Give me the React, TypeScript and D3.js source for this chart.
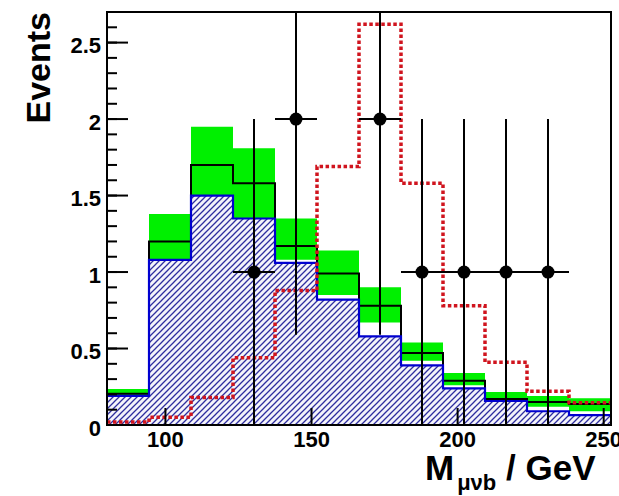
import React from 'react';
import * as d3 from 'd3';

// bin edges in GeV (12 bins)
const binEdges = [80, 94.375, 108.75, 123.125, 137.5, 151.875, 166.25, 180.625, 195, 209.375, 223.75, 238.125, 252.5];

// background (hatched), total expectation (black), its uncertainty band (green)
const background = [0.19, 1.08, 1.5, 1.35, 1.06, 0.82, 0.58, 0.39, 0.24, 0.157, 0.09, 0.065];
const expected = [0.205, 1.2, 1.7, 1.58, 1.17, 0.99, 0.78, 0.47, 0.29, 0.17, 0.15, 0.137];
const bandLow = [0.19, 1.08, 1.5, 1.35, 1.08, 0.85, 0.67, 0.42, 0.26, 0.157, 0.12, 0.09];
const bandHigh = [0.235, 1.38, 1.95, 1.81, 1.35, 1.14, 0.9, 0.54, 0.34, 0.215, 0.19, 0.175];
// signal (red dotted)
const signal = [0.02, 0.05, 0.18, 0.44, 0.88, 1.69, 2.62, 1.58, 0.78, 0.41, 0.22, 0.145];
// observed data
const observed = [0, 0, 0, 1, 2, 0, 2, 1, 1, 1, 1, 0];
const errLow = [0, 0, 0, 1, 1.41, 0, 1.41, 1, 1, 1, 1, 0];
const errHigh = [0, 0, 0, 1, 1.41, 0, 1.41, 1, 1, 1, 1, 0];

const xTicks = [100, 150, 200, 250];
const yTicks = [0, 0.5, 1, 1.5, 2, 2.5];

const W = 619;
const H = 496;
const left = 107, right = 611, top = 12, bottom = 425;
const font = '"Liberation Sans", Arial, Helvetica, sans-serif';

export default function App() {
  const x = d3.scaleLinear().domain([80, 252.5]).range([left, right]);
  const y = d3.scaleLinear().domain([0, 2.7]).range([bottom, top]);

  // step points: one per bin edge, last value repeated
  const steps = (vals: number[]) =>
    binEdges.map((e, i) => [e, vals[Math.min(i, vals.length - 1)]] as [number, number]);

  const line = d3.line<[number, number]>()
    .x(d => x(d[0]))
    .y(d => y(d[1]))
    .curve(d3.curveStepAfter);

  const fillArea = (lo: number[], hi: number[]) =>
    d3.area<number>()
      .x(e => x(e))
      .y0((e, i) => y(lo[Math.min(i, lo.length - 1)]))
      .y1((e, i) => y(hi[Math.min(i, hi.length - 1)]))
      .curve(d3.curveStepAfter)(binEdges);

  const zeros = background.map(() => 0);
  const minor = d3.range(0, 2.75, 0.1);

  return (
    <svg width={W} height={H} style={{ position: 'absolute', left: 0, top: 0, background: '#fff' }}>
      <defs>
        <clipPath id="plot">
          <rect x={left} y={top} width={right - left} height={bottom - top} />
        </clipPath>
        <pattern id="hatch" patternUnits="userSpaceOnUse" width={6} height={6}>
          <rect width={6} height={6} fill="#f4f4fb" />
          <path d="M-1,1 l2,-2 M0,6 l6,-6 M5,7 l2,-2" stroke="#2e2e9e" strokeWidth={1.3} />
        </pattern>
      </defs>

      <g clipPath="url(#plot)">
        <path d={fillArea(zeros, background) ?? ''} fill="url(#hatch)" />
        <path d={fillArea(bandLow, bandHigh) ?? ''} fill="#00f000" />
        <path d={line(steps(expected)) ?? ''} fill="none" stroke="#000" strokeWidth={2} />
        <path d={line(steps(background)) ?? ''} fill="none" stroke="#0000d0" strokeWidth={2.2} />
        <path d={line(steps(signal)) ?? ''} fill="none" stroke="#d0141e" strokeWidth={3.5} strokeDasharray="3.5 2.5" />

        {observed.map((n, i) => {
          if (n <= 0) return null;
          const cx = x((binEdges[i] + binEdges[i + 1]) / 2);
          return (
            <g key={i}>
              <line x1={x(binEdges[i])} x2={x(binEdges[i + 1])} y1={y(n)} y2={y(n)} stroke="#000" strokeWidth={2} />
              <line x1={cx} x2={cx} y1={y(n - errLow[i])} y2={y(n + errHigh[i])} stroke="#000" strokeWidth={2} />
              <circle cx={cx} cy={y(n)} r={6.5} fill="#000" />
            </g>
          );
        })}
      </g>

      {/* frame */}
      <rect x={left} y={top} width={right - left} height={bottom - top} fill="none" stroke="#000" strokeWidth={2} />

      {/* y axis ticks */}
      {minor.map((v, i) => (
        <line key={'m' + i} x1={left} x2={left + 10} y1={y(v)} y2={y(v)} stroke="#000" strokeWidth={2} />
      ))}
      {yTicks.map(v => (
        <g key={'y' + v}>
          <line x1={left} x2={left + 21} y1={y(v)} y2={y(v)} stroke="#000" strokeWidth={2} />
          <text x={left - 6} y={y(v) + 10.5} textAnchor="end" fontFamily={font} fontWeight="bold" fontSize={22} fill="#000">
            {d3.format('')(v)}
          </text>
        </g>
      ))}

      {/* x axis ticks */}
      {xTicks.map(v => (
        <g key={'x' + v}>
          <line x1={x(v)} x2={x(v)} y1={bottom} y2={bottom - 17} stroke="#000" strokeWidth={2} />
          <text x={x(v)} y={447} textAnchor="middle" fontFamily={font} fontWeight="bold" fontSize={22} fill="#000">
            {v}
          </text>
        </g>
      ))}

      {/* axis titles */}
      <text transform="translate(50,12) rotate(-90)" textAnchor="end" fontFamily={font} fontWeight="bold" fontSize={34} fill="#000">
        Events
      </text>
      <text x={425} y={480} fontFamily={font} fontWeight="bold" fontSize={35} fill="#000">
        M
        <tspan fontSize={22} dx={3} dy={10}>μνb</tspan>
        <tspan dy={-10}> / GeV</tspan>
      </text>
    </svg>
  );
}
